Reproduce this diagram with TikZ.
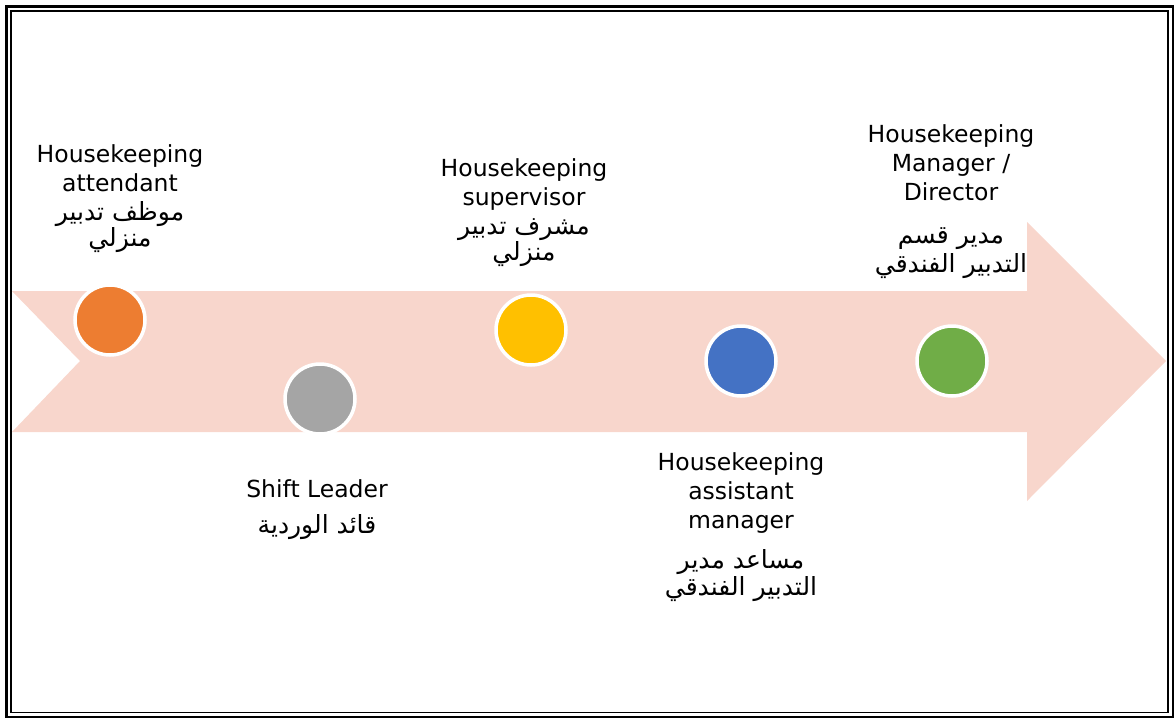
\documentclass[tikz,border=0pt]{standalone}
\usepackage{fontspec}
\setmainfont{DejaVu Sans}
\newfontfamily\arabicfont[Script=Arabic]{DejaVu Sans}
\TeXXeTstate=1
\newcommand{\artxt}[1]{{\arabicfont\fontsize{25}{29}\selectfont\beginR #1\endR}}
\definecolor{arrowpink}{HTML}{F8D6CC}
\definecolor{dotorange}{HTML}{ED7D31}
\definecolor{dotgray}{HTML}{A5A5A5}
\definecolor{dotyellow}{HTML}{FFC000}
\definecolor{dotblue}{HTML}{4472C4}
\definecolor{dotgreen}{HTML}{70AD47}
\tikzset{
  dot/.style={circle, draw=white, line width=3.5pt, minimum size=70pt, inner sep=0pt},
  lbl/.style={align=center, anchor=north, inner sep=0pt, font=\fontsize{23.5}{29}\selectfont}
}
\begin{document}
\begin{tikzpicture}[x=1pt, y=-1pt]
  \useasboundingbox (0,0) rectangle (1175,721);

  % Rahmen
  \draw[line width=2.5pt] (6.5,6.5) rectangle (1173,717);
  \draw[line width=1.5pt] (11,11) rectangle (1168,712.5);

  % Pfeil
  \fill[arrowpink] (12,291) -- (1027,291) -- (1027,222) -- (1166,361)
    -- (1027,501) -- (1027,432) -- (12,432) -- (80,361) -- cycle;

  % Stufen
  \node[dot, fill=dotorange] (attendant) at (110,320) {};
  \node[dot, fill=dotgray] (shift) at (320,399) {};
  \node[dot, fill=dotyellow] (supervisor) at (531,330) {};
  \node[dot, fill=dotblue] (assistant) at (741,361) {};
  \node[dot, fill=dotgreen] (manager) at (952,361) {};

  % Beschriftungen
  \node[lbl] (attendantlbl) at (120,144.5)
    {Housekeeping\\attendant\\\artxt{موظف تدبير}\\[-3pt]\artxt{منزلي}};
  \node[lbl] (shiftlbl) at (317,479.5)
    {Shift Leader\\[7pt]\artxt{قائد الوردية}};
  \node[lbl] (supervisorlbl) at (524,158.5)
    {Housekeeping\\supervisor\\\artxt{مشرف تدبير}\\[-3pt]\artxt{منزلي}};
  \node[lbl] (assistantlbl) at (741,452.5)
    {Housekeeping\\assistant\\manager\\[11pt]\artxt{مساعد مدير}\\[-2pt]\artxt{التدبير الفندقي}};
  \node[lbl] (managerlbl) at (951,124.5)
    {Housekeeping\\Manager /\\Director\\[14pt]\artxt{مدير قسم}\\\artxt{التدبير الفندقي}};
\end{tikzpicture}
\end{document}
